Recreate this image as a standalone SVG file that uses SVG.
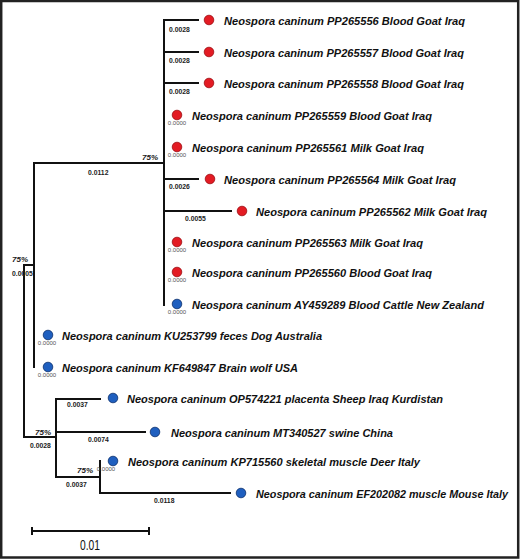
<svg xmlns="http://www.w3.org/2000/svg" width="520" height="559" viewBox="0 0 520 559">
<style>
.br{stroke:#111;stroke-width:2;fill:none;stroke-linecap:square}
.leaf{font-family:"Liberation Sans",Arial,sans-serif;font-style:italic;font-weight:bold;font-size:11.5px;fill:#111}
.bl{font-family:"Liberation Sans",Arial,sans-serif;font-weight:bold;font-size:6.8px;fill:#222}
.z{font-family:"Liberation Sans",Arial,sans-serif;font-size:6px;fill:#555;text-anchor:middle}
.bs{font-family:"Liberation Sans",Arial,sans-serif;font-style:italic;font-weight:bold;font-size:8px;fill:#222}
.red{fill:#e31b23;stroke:#9b0d12;stroke-width:0.8}
.blue{fill:#1f5fbf;stroke:#0b2f6b;stroke-width:0.8}
</style>
<rect x="0" y="0" width="520" height="559" fill="#fff"/>
<rect x="1.2" y="1" width="517" height="556.5" fill="none" stroke="#222" stroke-width="2.5"/>
<g id="connectors">
<path class="br" d="M164,20 V305 M164,20 H198 M164,52 H198 M164,83 H198 M164,179 H198 M164,211 H231 M34,163 H164 M34,163 V367 M24,265 H34 M24,265 V437 M24,437 H56 M56,399 V477 M56,399 H100 M56,432 H145 M56,477 H100 M100,461 V493 M100,493 H230"/>
<text class="bl" x="169" y="32">0.0028</text>
<text class="bl" x="169" y="63">0.0028</text>
<text class="bl" x="169" y="94">0.0028</text>
<text class="bl" x="169" y="189">0.0026</text>
<text class="bl" x="185" y="221">0.0055</text>
<text class="bl" x="88" y="175">0.0112</text>
<text class="bs" x="142" y="160">75%</text>
<text class="bs" x="12" y="262">75%</text>
<text class="bl" x="12" y="276">0.0005</text>
<text class="bs" x="35" y="435">75%</text>
<text class="bl" x="30" y="448">0.0028</text>
<text class="bl" x="67" y="407">0.0037</text>
<text class="bl" x="88" y="442">0.0074</text>
<text class="bs" x="77" y="473">75%</text>
<text class="bl" x="66" y="487">0.0037</text>
<text class="bl" x="154" y="503">0.0118</text>
</g>
<g id="n1"><circle class="red" cx="209" cy="20" r="4.8"/><text class="leaf" x="224" y="24.5" textLength="241" lengthAdjust="spacingAndGlyphs">Neospora caninum PP265556 Blood Goat Iraq</text></g>
<g id="n2"><circle class="red" cx="209" cy="52" r="4.8"/><text class="leaf" x="224" y="56.5" textLength="240" lengthAdjust="spacingAndGlyphs">Neospora caninum PP265557 Blood Goat Iraq</text></g>
<g id="n3"><circle class="red" cx="209" cy="83" r="4.8"/><text class="leaf" x="224" y="87.5" textLength="240" lengthAdjust="spacingAndGlyphs">Neospora caninum PP265558 Blood Goat Iraq</text></g>
<g id="n4"><circle class="red" cx="177" cy="115" r="4.8"/><text class="z" x="177" y="125">0.0000</text><text class="leaf" x="192" y="119.5" textLength="240" lengthAdjust="spacingAndGlyphs">Neospora caninum PP265559 Blood Goat Iraq</text></g>
<g id="n5"><circle class="red" cx="177" cy="147" r="4.8"/><text class="z" x="177" y="157">0.0000</text><text class="leaf" x="192" y="151.5" textLength="232" lengthAdjust="spacingAndGlyphs">Neospora caninum PP265561 Milk Goat Iraq</text></g>
<g id="n6"><circle class="red" cx="210" cy="179" r="4.8"/><text class="leaf" x="224" y="183.5" textLength="232" lengthAdjust="spacingAndGlyphs">Neospora caninum PP265564 Milk Goat Iraq</text></g>
<g id="n7"><circle class="red" cx="242" cy="211" r="4.8"/><text class="leaf" x="256" y="215.5" textLength="231" lengthAdjust="spacingAndGlyphs">Neospora caninum PP265562 Milk Goat Iraq</text></g>
<g id="n8"><circle class="red" cx="177" cy="242" r="4.8"/><text class="z" x="177" y="252">0.0000</text><text class="leaf" x="192" y="246.5" textLength="231" lengthAdjust="spacingAndGlyphs">Neospora caninum PP265563 Milk Goat Iraq</text></g>
<g id="n9"><circle class="red" cx="177" cy="272" r="4.8"/><text class="z" x="177" y="282">0.0000</text><text class="leaf" x="192" y="276.5" textLength="240" lengthAdjust="spacingAndGlyphs">Neospora caninum PP265560 Blood Goat Iraq</text></g>
<g id="n10"><circle class="blue" cx="177" cy="304" r="4.8"/><text class="z" x="177" y="314">0.0000</text><text class="leaf" x="192" y="308.5" textLength="292" lengthAdjust="spacingAndGlyphs">Neospora caninum AY459289 Blood Cattle New Zealand</text></g>
<g id="n11"><circle class="blue" cx="48" cy="335" r="4.8"/><text class="z" x="47" y="345">0.0000</text><text class="leaf" x="62" y="339.5" textLength="260" lengthAdjust="spacingAndGlyphs">Neospora caninum KU253799 feces Dog Australia</text></g>
<g id="n12"><circle class="blue" cx="48" cy="367" r="4.8"/><text class="z" x="47" y="377">0.0000</text><text class="leaf" x="62" y="371.5" textLength="236" lengthAdjust="spacingAndGlyphs">Neospora caninum KF649847 Brain wolf USA</text></g>
<g id="n13"><circle class="blue" cx="113" cy="398" r="4.8"/><text class="leaf" x="127" y="402.5" textLength="316" lengthAdjust="spacingAndGlyphs">Neospora caninum OP574221 placenta Sheep Iraq Kurdistan</text></g>
<g id="n14"><circle class="blue" cx="155" cy="432" r="4.8"/><text class="leaf" x="171" y="436.5" textLength="222" lengthAdjust="spacingAndGlyphs">Neospora caninum MT340527 swine China</text></g>
<g id="n15"><circle class="blue" cx="113" cy="461" r="4.8"/><text class="z" x="106" y="471">0.0000</text><text class="leaf" x="128" y="465.5" textLength="292" lengthAdjust="spacingAndGlyphs">Neospora caninum KP715560 skeletal muscle Deer Italy</text></g>
<g id="n16"><circle class="blue" cx="241" cy="493" r="4.8"/><text class="leaf" x="256" y="497.5" style="font-size:10.8px">Neospora caninum EF202082 muscle Mouse Italy</text></g>
<g id="scale">
<path class="br" d="M32,531 H149 M32,528 V534 M149,528 V534"/>
<text x="90" y="550" text-anchor="middle" font-family="Liberation Sans, Arial, sans-serif" font-size="14" textLength="20" lengthAdjust="spacingAndGlyphs" fill="#111">0.01</text>
</g>
</svg>
